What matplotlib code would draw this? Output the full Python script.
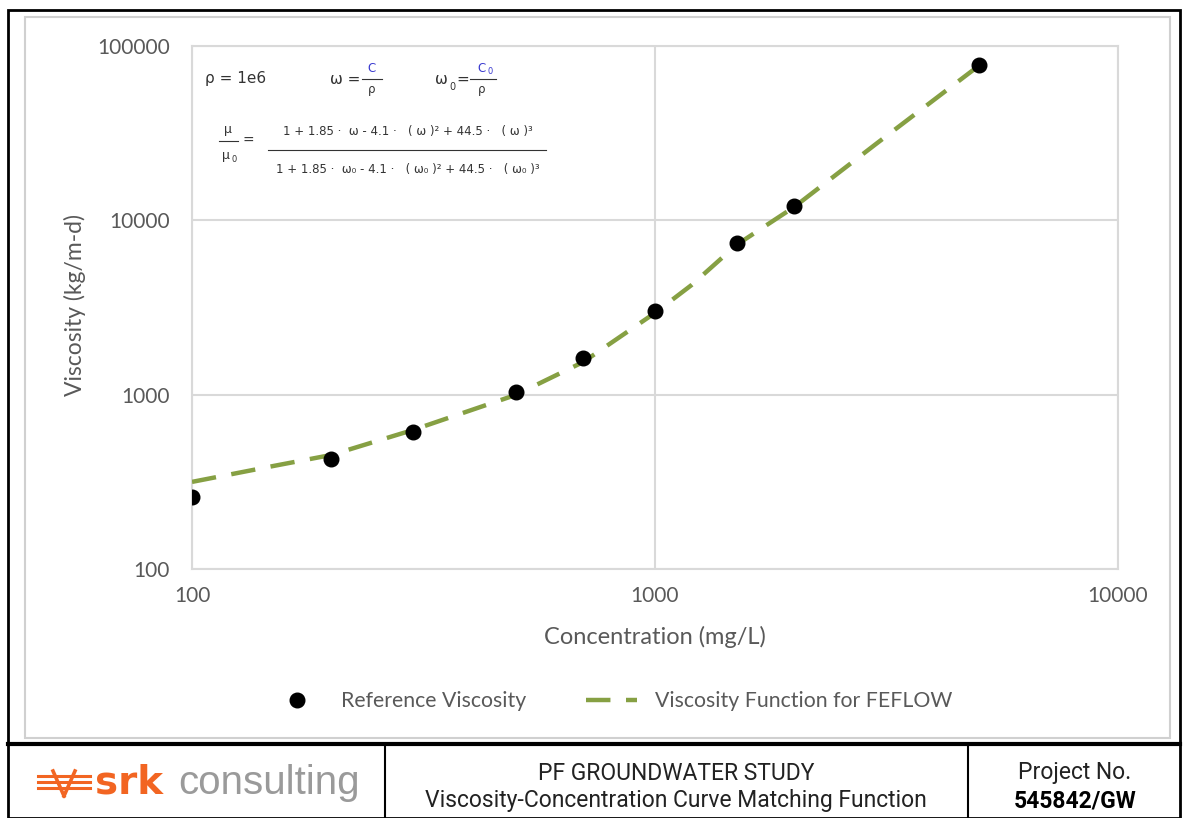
import numpy as np
import matplotlib.pyplot as plt
from matplotlib.lines import Line2D
from matplotlib.patches import Rectangle

# reference viscosity points
conc_ref = [100, 200, 300, 500, 700, 1000, 1500, 2000, 5000]
visc_ref = [259, 428, 611, 1035, 1625, 3020, 7410, 12100, 78000]

# viscosity function curve
conc_fit = [100, 150, 200, 300, 500, 700, 1000, 1200, 1500, 2000, 3000, 5000]
visc_fit = [316, 390, 451, 627, 996, 1540, 2945, 4260, 7230, 11950, 27400, 76900]

x_ticks = [100, 1000, 10000]
y_ticks = [100, 1000, 10000, 100000]

W, H = 1184, 818
fig = plt.figure(figsize=(W / 100, H / 100), dpi=100)


def fx(x):
    return x / W


def fy(y):
    return 1 - y / H


def ftext(x, y, s, **kw):
    fig.text(fx(x), fy(y), s, **kw)


def fline(x0, y0, x1, y1, **kw):
    fig.add_artist(Line2D([fx(x0), fx(x1)], [fy(y0), fy(y1)],
                          transform=fig.transFigure, **kw))


grey = '#595959'
grid_c = '#D9D9D9'
green = '#86A043'
label_font = ['Lato', 'DejaVu Sans']

ax = fig.add_axes([fx(192), fy(569), fx(1118) - fx(192), fy(46) - fy(569)])
ax.set_xscale('log')
ax.set_yscale('log')
ax.set_xlim(100, 10000)
ax.set_ylim(100, 100000)

ax.plot(conc_fit, visc_fit, color=green, lw=3.2, dashes=(5.5, 3.5),
        label='Viscosity Function for FEFLOW', zorder=3)
ax.plot(conc_ref, visc_ref, 'o', color='black', ms=10.5, ls='none',
        label='Reference Viscosity', zorder=4)

ax.set_xticks(x_ticks)
ax.set_yticks(y_ticks)
ax.set_xticklabels([str(v) for v in x_ticks])
ax.set_yticklabels([str(v) for v in y_ticks])
ax.minorticks_off()
ax.tick_params(length=0, colors=grey, labelsize=15, pad=12)
ax.tick_params(axis='y', pad=16)
for lab in ax.get_xticklabels() + ax.get_yticklabels():
    lab.set_family(label_font)
ax.grid(True, color=grid_c, lw=1.5)
for sp in ax.spines.values():
    sp.set_color(grid_c)
    sp.set_linewidth(1.5)

ftext(75, 305, 'Viscosity (kg/m-d)', rotation=90, ha='center', va='center',
      fontsize=16.5, color=grey, family=label_font)
ftext(655, 637, 'Concentration (mg/L)', ha='center', va='center',
      fontsize=17, color=grey, family=label_font)

# legend
h, l = ax.get_legend_handles_labels()
leg = fig.legend([h[1], h[0]], [l[1], l[0]], loc='center',
                 bbox_to_anchor=(fx(612), fy(701)), ncol=2, frameon=False,
                 fontsize=15.3, handlelength=2.4, columnspacing=2.8,
                 handletextpad=0.85)
for t in leg.get_texts():
    t.set_color(grey)
    t.set_family(label_font)

# equation block
eq_c = '#333333'
blue = '#3A3ACF'
eqf = ['DejaVu Sans']
ftext(205, 79, 'ρ = 1e6', fontsize=11, color=eq_c, va='center', family=eqf)
ftext(330, 79, 'ω =', fontsize=11, color=eq_c, va='center', family=eqf)
fline(362, 79, 382, 79, color=eq_c, lw=0.8)
ftext(372, 69, 'C', fontsize=8.5, color=blue, ha='center', va='center',
      family=eqf)
ftext(372, 90, 'ρ', fontsize=8.5, color=eq_c, ha='center', va='center',
      family=eqf)
ftext(435, 79, 'ω', fontsize=11, color=eq_c, va='center', family=eqf)
ftext(449, 87, '0', fontsize=7, color=eq_c, va='center', family=eqf)
ftext(456, 79, '=', fontsize=11, color=eq_c, va='center', family=eqf)
fline(470, 79, 496, 79, color=eq_c, lw=0.8)
ftext(481, 68, 'C', fontsize=8.5, color=blue, ha='center', va='center',
      family=eqf)
ftext(490, 72, '0', fontsize=6, color=blue, ha='center', va='center',
      family=eqf)
ftext(482, 90, 'ρ', fontsize=8.5, color=eq_c, ha='center', va='center',
      family=eqf)

ftext(228, 129, 'μ', fontsize=9, color=eq_c, ha='center', va='center',
      family=eqf)
fline(219, 141, 238, 141, color=eq_c, lw=0.8)
ftext(226, 155, 'μ', fontsize=9, color=eq_c, ha='center', va='center',
      family=eqf)
ftext(234, 160, '0', fontsize=6, color=eq_c, ha='center', va='center',
      family=eqf)
ftext(243, 141, '=', fontsize=10, color=eq_c, va='center', family=eqf)
num = '1 + 1.85 ·  ω - 4.1 ·   ( ω )² + 44.5 ·   ( ω )³'
den = '1 + 1.85 ·  ω₀ - 4.1 ·   ( ω₀ )² + 44.5 ·   ( ω₀ )³'
ftext(408, 132, num, fontsize=8.5, color=eq_c, ha='center', va='center',
      family=eqf)
fline(268, 150, 546, 150, color=eq_c, lw=0.8)
ftext(408, 169, den, fontsize=8.5, color=eq_c, ha='center', va='center',
      family=eqf)

# chart area border and outer frame
fig.add_artist(Rectangle((fx(25), fy(738)), fx(1170) - fx(25),
                         fy(17) - fy(738), transform=fig.transFigure,
                         fill=False, ec='#D0D0D0', lw=1.5))
fig.add_artist(Rectangle((fx(8), fy(818)), fx(1180) - fx(8),
                         fy(10) - fy(818), transform=fig.transFigure,
                         fill=False, ec='black', lw=2))
fline(8, 744, 1180, 744, color='black', lw=3)
fline(385, 744, 385, 818, color='black', lw=1.5)
fline(968, 744, 968, 818, color='black', lw=1.5)

# title block
tfont = ['Roboto', 'DejaVu Sans']
ftext(676, 773, 'PF GROUNDWATER STUDY', ha='center', va='center',
      fontsize=16.5, color='#222222', family=tfont)
ftext(676, 801, 'Viscosity-Concentration Curve Matching Function',
      ha='center', va='center', fontsize=16.5, color='#222222', family=tfont)
ftext(1075, 773, 'Project No.', ha='center', va='center', fontsize=16.5,
      color='#222222', family=tfont)
ftext(1075, 801, '545842/GW', ha='center', va='center', fontsize=16.5,
      color='black', family=tfont, weight='bold')

# srk logo
orange = '#F26522'
for yy in (776, 782, 788):
    fline(38, yy, 90, yy, color=orange, lw=2.2)
fline(53, 771, 64, 796, color=orange, lw=2.6)
fline(64, 796, 75, 771, color=orange, lw=2.6)
ftext(95, 783, 'srk', ha='left', va='center', fontsize=28, color=orange,
      weight='bold', family=['DejaVu Sans'])
ftext(178, 783, 'consulting', ha='left', va='center', fontsize=29,
      color='#9A9A9A', family=['Liberation Sans', 'DejaVu Sans'])

fig.savefig('out.png', dpi=100)
